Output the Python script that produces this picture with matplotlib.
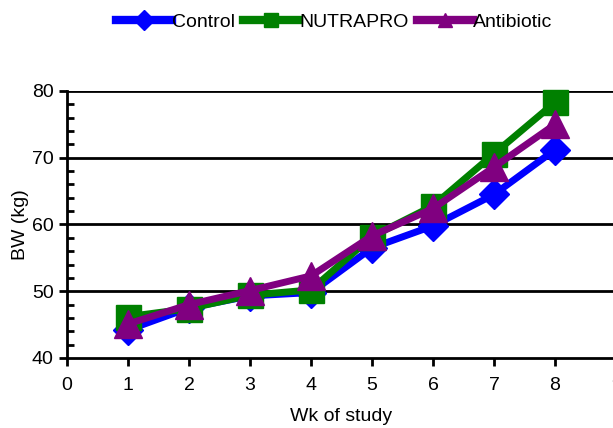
import matplotlib.pyplot as plt
from matplotlib.lines import Line2D
from matplotlib.ticker import MultipleLocator

plt.rcParams["font.family"] = ["Liberation Sans", "DejaVu Sans"]

weeks = [1, 2, 3, 4, 5, 6, 7, 8]
control = [44.2, 47.5, 49.3, 49.8, 56.5, 59.8, 64.5, 71.2]
nutrapro = [46.2, 47.4, 49.4, 50.2, 58.2, 62.8, 70.6, 78.3]
antibiotic = [45.1, 48.0, 50.1, 52.3, 58.3, 62.4, 68.6, 75.0]

series = [
    ("Control", control, "#0000ff", "D", 15),
    ("NUTRAPRO", nutrapro, "#008000", "s", 18),
    ("Antibiotic", antibiotic, "#800080", "^", 20),
]

fig = plt.figure(figsize=(6.13, 4.28), dpi=100)
ax = fig.add_axes([0.1093, 0.1636, 0.8957, 0.6238])

for name, vals, col, mk, ms in series:
    ax.plot(weeks, vals, color=col, lw=5, marker=mk, markersize=ms,
            markeredgecolor=col, clip_on=False)

ax.set_xlim(0, 9)
ax.set_ylim(40, 80)
ax.set_xticks(range(0, 10))
ax.set_yticks([40, 50, 60, 70, 80])
ax.yaxis.set_minor_locator(MultipleLocator(2))
for y in [50, 60, 70, 80]:
    ax.axhline(y, color="black", lw=2, zorder=0)

for s in ["top", "right"]:
    ax.spines[s].set_visible(False)
for s in ["left", "bottom"]:
    ax.spines[s].set_linewidth(2)

ax.tick_params(axis="both", which="major", direction="out", length=6, width=2,
               labelsize=14, colors="black")
ax.tick_params(axis="y", which="minor", direction="in", length=5, width=2)
ax.tick_params(axis="x", pad=8)

ax.set_xlabel("Wk of study", fontsize=14, labelpad=10)
ax.set_ylabel("BW (kg)", fontsize=14, labelpad=2)

handles = [Line2D([], [], color=col, lw=6, marker=mk, markersize=10,
                  markeredgecolor=col) for _, _, col, mk, _ in series]
fig.legend(handles, [s[0] for s in series], loc="upper center",
           bbox_to_anchor=(0.545, 1.01), ncol=3, frameon=False, fontsize=14,
           handlelength=2.9, handletextpad=0.0, columnspacing=0.4)

fig.savefig("out.png", dpi=100)
